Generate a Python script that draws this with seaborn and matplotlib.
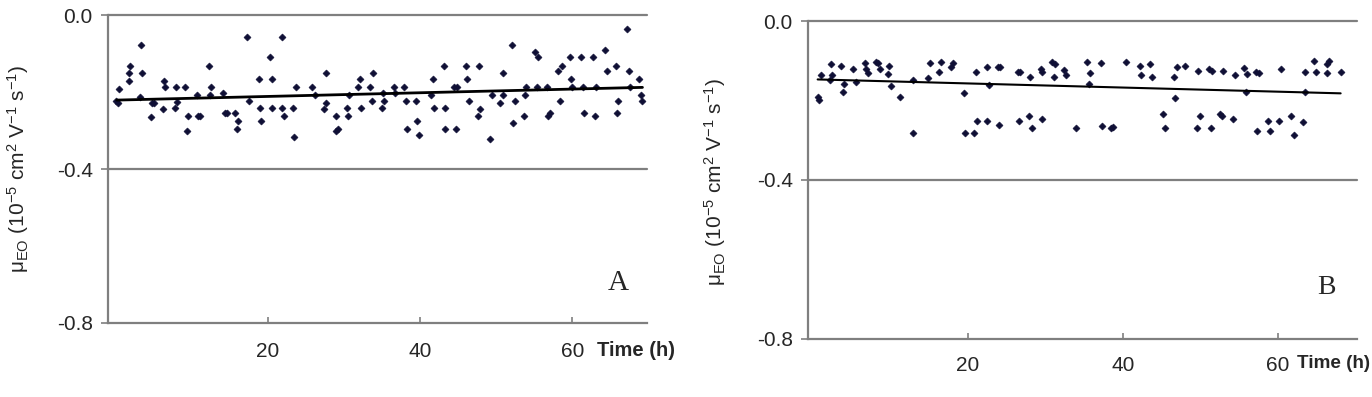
import matplotlib
matplotlib.use("Agg")
import matplotlib.pyplot as plt
import seaborn as sns
import pandas as pd

# ---------------- data ----------------
time_a = [0.16, 0.37, 0.46, 1.77, 1.81, 1.99, 3.39, 3.52, 3.22, 4.66, 4.83, 5.05, 6.23, 6.36, 6.50,
          7.81, 7.94, 8.11, 9.21, 9.42, 9.55, 10.73, 10.87, 11.18, 12.27, 12.53, 12.40, 14.20, 14.41,
          14.67, 15.77, 16.08, 15.98, 17.35, 17.61, 18.87, 19.00, 19.13, 20.28, 20.54, 20.63, 21.85,
          21.94, 22.20, 23.33, 23.46, 23.69, 25.79, 26.18, 27.36, 27.72, 27.62, 29.03, 28.94, 29.29,
          30.42, 30.60, 30.68, 31.86, 32.18, 32.31, 33.40, 33.75, 33.83,
          34.97, 35.14, 35.24, 36.55, 36.68, 37.90, 38.22, 38.35, 39.53, 39.66, 39.87, 41.50, 41.67,
          41.80, 43.11, 43.33, 43.24, 44.42, 44.86, 44.78, 46.04, 46.17, 46.43, 47.61, 47.74, 47.87,
          49.24, 49.45, 50.55, 50.85, 50.94, 52.13, 52.26, 52.47, 53.65, 53.78, 53.96, 55.05, 55.49,
          55.41, 56.63, 56.85, 57.02, 58.16, 58.33, 58.60, 59.68, 59.82, 59.95, 61.09, 61.44, 61.52,
          62.66, 62.97, 63.10, 64.24, 64.59, 65.77, 65.91, 66.04, 67.17, 67.48, 67.61, 68.74, 68.96,
          69.19]
mobility_a = [-0.223, -0.229, -0.192, -0.171, -0.151, -0.132, -0.077, -0.151, -0.212, -0.266, -0.228,
              -0.228, -0.245, -0.171, -0.188, -0.241, -0.188, -0.225, -0.188, -0.301, -0.262, -0.207,
              -0.262, -0.262, -0.132, -0.188, -0.207, -0.203, -0.255, -0.255, -0.255, -0.276, -0.296,
              -0.057, -0.223, -0.166, -0.241, -0.276, -0.110, -0.166, -0.241, -0.057, -0.241, -0.262,
              -0.241, -0.317, -0.188, -0.188, -0.207, -0.245, -0.151, -0.228, -0.262, -0.301, -0.296,
              -0.241, -0.262, -0.207, -0.188, -0.166, -0.241, -0.188, -0.223, -0.151,
              -0.241, -0.202, -0.223, -0.188, -0.202, -0.188, -0.223, -0.296, -0.223, -0.276, -0.312,
              -0.207, -0.166, -0.241, -0.132, -0.241, -0.296, -0.188, -0.188, -0.296, -0.132, -0.166,
              -0.223, -0.262, -0.132, -0.245, -0.322, -0.207, -0.228, -0.207, -0.151, -0.077, -0.281,
              -0.223, -0.262, -0.207, -0.188, -0.095, -0.110, -0.188, -0.188, -0.262, -0.255, -0.146,
              -0.223, -0.132, -0.110, -0.166, -0.188, -0.110, -0.188, -0.255, -0.110, -0.262, -0.188,
              -0.090, -0.146, -0.132, -0.255, -0.223, -0.036, -0.146, -0.188, -0.166, -0.207, -0.223]
trend_time_a = [0.2, 69.2]
trend_mobility_a = [-0.221, -0.188]

time_b = [0.68, 0.81, 0.99, 2.19, 2.36, 2.49, 3.65, 3.91, 4.04, 5.20, 5.51, 6.71, 6.88, 7.06, 8.13,
          8.43, 8.65, 9.72, 9.85, 10.06, 11.23, 12.86, 12.94, 14.88, 15.14, 16.26, 16.48, 17.81, 18.10,
          19.48, 19.61, 20.77, 21.03, 21.12, 22.41, 22.49, 22.71, 23.91, 24.13, 24.04, 26.41, 26.71,
          26.58, 27.83, 28.00, 28.26, 29.38, 29.59, 29.59, 30.88, 31.23, 31.10, 32.43, 32.65, 33.94,
          35.39, 35.74, 35.65, 37.12, 37.33, 38.41, 38.67, 40.39, 42.15, 42.36, 43.48, 43.70, 45.20,
          45.42, 46.58, 46.71, 46.93, 48.04, 49.51, 49.72, 49.97, 51.14, 51.45, 51.32, 52.52, 52.81,
          52.90, 54.15, 54.45, 55.61, 55.87, 55.96, 57.12, 57.33, 57.59, 58.67, 58.97, 60.17, 60.35,
          61.68, 62.06, 63.19, 63.48, 63.48, 64.68, 64.90, 66.28, 66.36, 66.58, 68.09]
mobility_b = [-0.192, -0.199, -0.135, -0.148, -0.109, -0.135, -0.113, -0.179, -0.158, -0.120, -0.153,
              -0.105, -0.122, -0.132, -0.102, -0.106, -0.121, -0.134, -0.113, -0.164, -0.190, -0.283,
              -0.148, -0.143, -0.105, -0.129, -0.102, -0.116, -0.106, -0.182, -0.281, -0.281, -0.129,
              -0.251, -0.116, -0.251, -0.161, -0.116, -0.116, -0.262, -0.129, -0.129, -0.251, -0.239,
              -0.142, -0.270, -0.121, -0.129, -0.247, -0.103, -0.109, -0.142, -0.123, -0.136, -0.270,
              -0.104, -0.132, -0.159, -0.105, -0.263, -0.270, -0.266, -0.103, -0.113, -0.135, -0.109,
              -0.142, -0.235, -0.270, -0.142, -0.194, -0.116, -0.113, -0.270, -0.125, -0.240, -0.121,
              -0.125, -0.270, -0.234, -0.240, -0.125, -0.247, -0.135, -0.117, -0.179, -0.134, -0.129,
              -0.276, -0.130, -0.252, -0.277, -0.252, -0.121, -0.240, -0.286, -0.254, -0.129, -0.179,
              -0.100, -0.128, -0.132, -0.109, -0.100, -0.128]
trend_time_b = [0.6, 68.1]
trend_mobility_b = [-0.147, -0.182]

y_ticks = [0.0, -0.4, -0.8]
y_tick_labels = ["0.0", "-0.4", "-0.8"]
x_ticks = [20, 40, 60]
x_tick_labels = ["20", "40", "60"]
panel_letters = ["A", "B"]

# ---------------- style ----------------
sns.set_style("white")
plt.rcParams["font.family"] = ["Liberation Sans", "DejaVu Sans"]
plt.rcParams["mathtext.fontset"] = "custom"
plt.rcParams["mathtext.rm"] = "Liberation Sans"
plt.rcParams["mathtext.it"] = "Liberation Sans"
plt.rcParams["mathtext.default"] = "regular"

SPINE = "#7f7f7f"
DOT = "#0f0f35"

fig = plt.figure(figsize=(13.72, 3.97), dpi=100)
ax_a = fig.add_axes([0.0787, 0.1864, 0.3929, 0.7758])
ax_b = fig.add_axes([0.5889, 0.1461, 0.4001, 0.8010])

panels = [
    (ax_a, time_a, mobility_a, trend_time_a, trend_mobility_a, (-0.95, 69.8), 2.0, 14),
    (ax_b, time_b, mobility_b, trend_time_b, trend_mobility_b, (-0.65, 70.2), 1.5, 12),
]

for ax, tx, my, ttx, tty, xl, lw, xpad in panels:
    df = pd.DataFrame({"t": tx, "m": my})
    tdf = pd.DataFrame({"t": ttx, "m": tty})
    sns.scatterplot(data=df, x="t", y="m", ax=ax, marker="D", s=13, color=DOT,
                    edgecolor=DOT, linewidth=0.4, zorder=3)
    sns.lineplot(data=tdf, x="t", y="m", ax=ax, color="black", linewidth=lw, zorder=4)
    ax.set_xlim(*xl)
    ax.set_ylim(-0.8, 0.0)
    for yv in [0.0, -0.4]:
        ax.axhline(yv, color=SPINE, linewidth=1.6, clip_on=False, zorder=1)
    for s in ["top", "right"]:
        ax.spines[s].set_visible(False)
    for s in ["left", "bottom"]:
        ax.spines[s].set_color(SPINE)
        ax.spines[s].set_linewidth(1.6)
    ax.set_yticks(y_ticks)
    ax.set_yticklabels(y_tick_labels)
    ax.set_xticks(x_ticks)
    ax.set_xticklabels(x_tick_labels)
    ax.tick_params(axis="y", direction="out", length=5, width=1.2, color=SPINE,
                   labelsize=15, pad=6, left=True)
    ax.tick_params(axis="x", direction="in", length=4, width=1.2, color=SPINE,
                   labelsize=15, pad=xpad, bottom=True)
    ax.set_xlabel("")
    ax.set_ylabel("")

ylabel = r"$\mu_{EO}$ (10$^{-5}$ cm$^{2}$ V$^{-1}$ s$^{-1}$)"
fig.text(0.0135, 0.575, ylabel, rotation=90, ha="center", va="center", fontsize=15)
fig.text(0.521, 0.542, ylabel, rotation=90, ha="center", va="center", fontsize=15)

fig.text(0.4351, 0.1159, "Time (h)", fontsize=14.5, fontweight="bold", ha="left", va="center")
fig.text(0.9450, 0.0856, "Time (h)", fontsize=13.6, fontweight="bold", ha="left", va="center")

fig.text(0.4504, 0.287, panel_letters[0], family=["Liberation Serif"], fontsize=21,
         ha="center", va="center")
fig.text(0.9665, 0.277, panel_letters[1], family=["Liberation Serif"], fontsize=20,
         ha="center", va="center")

fig.savefig("out.png", dpi=100)
